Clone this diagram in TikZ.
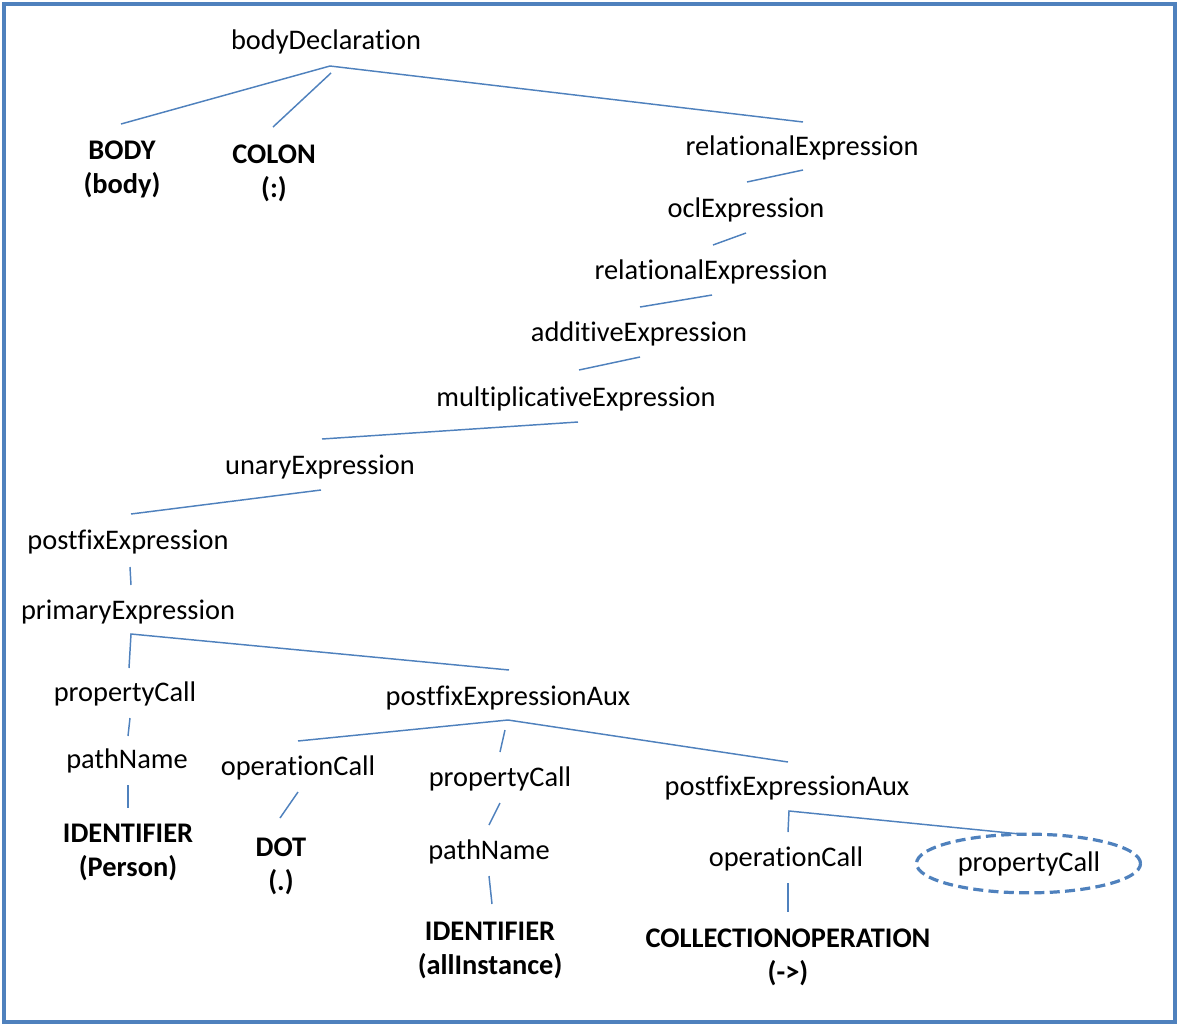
\documentclass[tikz,border=0pt]{standalone}
\usepackage{fontspec}
\setmainfont{Carlito}[Ligatures={NoCommon,NoContextual}]
\usetikzlibrary{shapes.geometric}
\definecolor{lineblue}{HTML}{4F81BD}
\begin{document}
\begin{tikzpicture}[x=0.75pt,y=-0.75pt,
  nt/.style={inner sep=0pt,anchor=base,font=\fontsize{21.3}{25.5}\selectfont},
  tm/.style={inner sep=0pt,anchor=base,align=center,font=\fontsize{21.3}{25.5}\selectfont\bfseries},
  edge/.style={draw=lineblue,line width=1.1pt},
  sel/.style={draw=lineblue,line width=2.4pt,dash pattern=on 7.5pt off 4pt,ellipse,minimum width=168pt,minimum height=44pt,inner sep=0pt}]
\useasboundingbox (0,0) rectangle (1178,1025);
\draw[lineblue,line width=3pt] (3.5,3.5) rectangle (1174.5,1021.5);
% nodes (two-line nodes are placed by the baseline of their last line)
\node[nt] (bd) at (326,49) {bodyDeclaration};
\node[tm] (body) at (122,193) {BODY\\(body)};
\node[tm] (colon) at (274,197) {COLON\\(:)};
\node[nt] (rel1) at (802,155) {relationalExpression};
\node[nt] (ocl) at (746,217) {oclExpression};
\node[nt] (rel2) at (711,279) {relationalExpression};
\node[nt] (add) at (639,341) {additiveExpression};
\node[nt] (mul) at (576,406) {multiplicativeExpression};
\node[nt] (un) at (320,474) {unaryExpression};
\node[nt] (pf) at (128,549) {postfixExpression};
\node[nt] (pr) at (128,619) {primaryExpression};
\node[nt] (pc1) at (125,701) {propertyCall};
\node[nt] (pfa1) at (508,705) {postfixExpressionAux};
\node[nt] (pn1) at (127,768) {pathName};
\node[nt] (oc1) at (298,775) {operationCall};
\node[nt] (pc2) at (500,786) {propertyCall};
\node[nt] (pfa2) at (787,795) {postfixExpressionAux};
\node[tm] (id1) at (128,876) {IDENTIFIER\\(Person)};
\node[tm] (dot) at (281,890) {DOT\\(.)};
\node[nt] (pn2) at (489,859) {pathName};
\node[nt] (oc2) at (786,866) {operationCall};
\node[sel] (ell) at (1028.5,863.5) {};
\node[nt] (pc3) at (1029,871) {propertyCall};
\node[tm] (id2) at (490,974) {IDENTIFIER\\(allInstance)};
\node[tm] (co) at (788,981) {COLLECTIONOPERATION\\(->)};
% connector end points
\coordinate (bd-a) at (330,66);
\coordinate (bd-b) at (331,73);
\coordinate (body-t) at (121,124);
\coordinate (colon-t) at (273,127);
\coordinate (rel1-t) at (803,122);
\coordinate (rel1-b) at (803,170);
\coordinate (ocl-t) at (747,182);
\coordinate (ocl-b) at (746,233);
\coordinate (rel2-t) at (713,245);
\coordinate (rel2-b) at (712,295);
\coordinate (add-t) at (640,307);
\coordinate (add-b) at (640,357);
\coordinate (mul-t) at (579,370);
\coordinate (mul-b) at (578,422);
\coordinate (un-t) at (322,439);
\coordinate (un-b) at (321,490);
\coordinate (pf-t) at (131,514);
\coordinate (pf-b) at (130,567);
\coordinate (pr-t) at (131,585);
\coordinate (pr-b) at (131,634);
\coordinate (pc1-t) at (129,668);
\coordinate (pc1-b) at (130,718);
\coordinate (pn1-t) at (128,736);
\coordinate (pn1-b) at (128,785);
\coordinate (id1-t) at (128,808);
\coordinate (pfa1-t) at (509,670);
\coordinate (pfa1-b) at (508,720);
\coordinate (pfa1-c) at (505,730);
\coordinate (oc1-t) at (298,741);
\coordinate (pc2-t) at (500,752);
\coordinate (pfa2-t) at (788,762);
\coordinate (oc1-b) at (298,792);
\coordinate (dot-t) at (280,818);
\coordinate (pc2-b) at (500,803);
\coordinate (pn2-t) at (489,825);
\coordinate (pn2-b) at (489,876);
\coordinate (id2-t) at (492,904);
\coordinate (pfa2-b) at (789,811);
\coordinate (oc2-t) at (788,832);
\coordinate (ell-t) at (1020,834);
\coordinate (oc2-b) at (788,883);
\coordinate (co-t) at (788,912);
% connectors
\draw[edge] (body-t) -- (bd-a) -- (rel1-t);
\draw[edge] (bd-b) -- (colon-t);
\draw[edge] (rel1-b) -- (ocl-t);
\draw[edge] (ocl-b) -- (rel2-t);
\draw[edge] (rel2-b) -- (add-t);
\draw[edge] (add-b) -- (mul-t);
\draw[edge] (mul-b) -- (un-t);
\draw[edge] (un-b) -- (pf-t);
\draw[edge] (pf-b) -- (pr-t);
\draw[edge] (pc1-t) -- (pr-b) -- (pfa1-t);
\draw[edge] (pc1-b) -- (pn1-t);
\draw[edge] (pn1-b) -- (id1-t);
\draw[edge] (oc1-t) -- (pfa1-b) -- (pfa2-t);
\draw[edge] (pfa1-c) -- (pc2-t);
\draw[edge] (oc1-b) -- (dot-t);
\draw[edge] (pc2-b) -- (pn2-t);
\draw[edge] (pn2-b) -- (id2-t);
\draw[edge] (oc2-t) -- (pfa2-b) -- (ell-t);
\draw[edge] (oc2-b) -- (co-t);
\end{tikzpicture}
\end{document}
